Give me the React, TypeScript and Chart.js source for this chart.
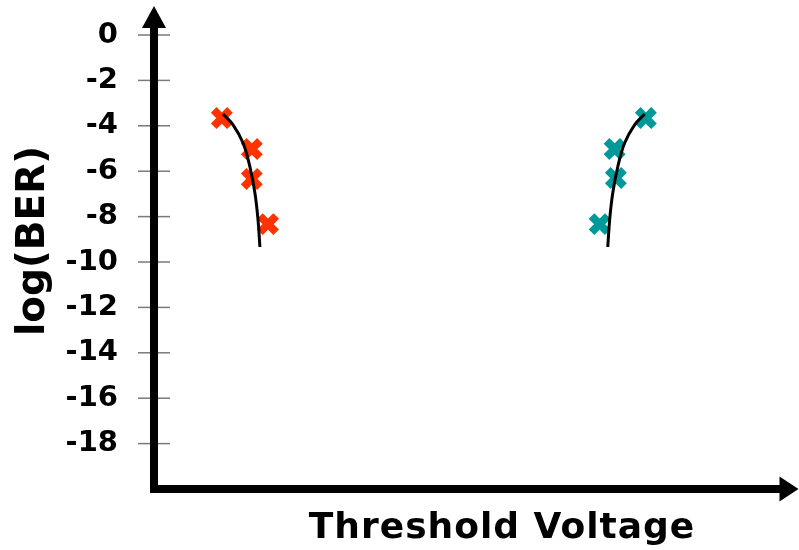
import React, { useEffect, useRef } from "react";
import { Chart, registerables } from "chart.js";

Chart.register(...registerables);

// y tick values (log BER)
const yTickValues = [0, -2, -4, -6, -8, -10, -12, -14, -16, -18];

// measured markers
const redMarkX = [1.07, 1.55, 1.55, 1.81];
const redMarkY = [-3.66, -5.02, -6.34, -8.33];
const tealMarkX = [7.86, 7.36, 7.38, 7.12];
const tealMarkY = [-3.66, -5.02, -6.3, -8.33];

// fitted curves
const redCurveX = [1.09, 1.25, 1.41, 1.52, 1.6, 1.65, 1.68];
const redCurveY = [-3.48, -3.96, -4.76, -5.81, -6.96, -8.15, -9.34];
const tealCurveX = [7.84, 7.68, 7.52, 7.41, 7.33, 7.28, 7.25];
const tealCurveY = [-3.48, -3.96, -4.76, -5.81, -6.96, -8.15, -9.34];

const xTitle = "Threshold Voltage";
const yTitle = "log(BER)";

const TICK_FONT = 29;

const toPts = (xs: number[], ys: number[]) => xs.map((x, i) => ({ x, y: ys[i] }));

const axesPlugin = {
  id: "customAxes",
  afterDraw(chart: any) {
    const { ctx, chartArea } = chart;
    const { left, right, top, bottom } = chartArea;
    const ys = chart.scales.y;
    ctx.save();
    // tick marks crossing the axis
    ctx.strokeStyle = "#7a7a7a";
    ctx.lineWidth = 1.5;
    for (const v of yTickValues) {
      const py = ys.getPixelForValue(v);
      ctx.beginPath();
      ctx.moveTo(left - 17, py);
      ctx.lineTo(left + 15, py);
      ctx.stroke();
    }
    ctx.fillStyle = "#000";
    // y axis line
    ctx.fillRect(left - 5, top - 8, 8, bottom - top + 12);
    // x axis line
    ctx.fillRect(left - 5, bottom - 4, right - left + 6, 8);
    // y arrow
    ctx.beginPath();
    ctx.moveTo(left - 1, top - 29);
    ctx.lineTo(left - 13, top - 7);
    ctx.lineTo(left + 11, top - 7);
    ctx.closePath();
    ctx.fill();
    // x arrow
    ctx.beginPath();
    ctx.moveTo(right + 19, bottom);
    ctx.lineTo(right, bottom - 12.5);
    ctx.lineTo(right, bottom + 12.5);
    ctx.closePath();
    ctx.fill();
    // titles
    ctx.fillStyle = "#000";
    ctx.font = "bold 36px 'DejaVu Sans'";
    (ctx as any).letterSpacing = "1px";
    ctx.textAlign = "center";
    ctx.textBaseline = "alphabetic";
    ctx.fillText(xTitle, 502, 538);
    ctx.translate(44, 241);
    ctx.rotate(-Math.PI / 2);
    ctx.font = "bold 39px 'DejaVu Sans'";
    (ctx as any).letterSpacing = "0px";
    ctx.fillText(yTitle, 0, 0);
    ctx.restore();
  },
};

export default function App() {
  const ref = useRef<HTMLCanvasElement>(null);
  useEffect(() => {
    const chart = new Chart(ref.current as HTMLCanvasElement, {
      type: "scatter",
      data: {
        datasets: [
          {
            type: "line",
            data: toPts(redCurveX, redCurveY),
            borderColor: "#000",
            borderWidth: 3,
            pointRadius: 0,
            tension: 0.4,
            fill: false,
          } as any,
          {
            type: "line",
            data: toPts(tealCurveX, tealCurveY),
            borderColor: "#000",
            borderWidth: 3,
            pointRadius: 0,
            tension: 0.4,
            fill: false,
          } as any,
          {
            data: toPts(redMarkX, redMarkY),
            pointStyle: "crossRot",
            pointRadius: 11.5,
            pointBorderWidth: 8,
            borderColor: "#FF3300",
            backgroundColor: "#FF3300",
          },
          {
            data: toPts(tealMarkX, tealMarkY),
            pointStyle: "crossRot",
            pointRadius: 11.5,
            pointBorderWidth: 8,
            borderColor: "#009999",
            backgroundColor: "#009999",
          },
        ],
      },
      options: {
        responsive: false,
        animation: false,
        layout: { padding: { top: 35, right: 19, bottom: 61, left: 0 } },
        plugins: { legend: { display: false }, tooltip: { enabled: false } },
        elements: { point: { hoverRadius: 11.5 } },
        scales: {
          x: { type: "linear", min: 0, max: 10, display: false },
          y: {
            type: "linear",
            min: -20,
            max: 0,
            afterFit: (s: any) => {
              s.width = 155;
            },
            afterBuildTicks: (s: any) => {
              s.ticks = yTickValues.map((v) => ({ value: v }));
            },
            ticks: {
              padding: 8,
              color: "#000",
              font: { family: "'DejaVu Sans'", size: TICK_FONT, weight: "bold" },
              callback: (v: any) => String(v),
            },
            grid: { display: false, drawTicks: true, tickLength: 29 },
            border: { display: false },
          },
        },
      },
      plugins: [axesPlugin],
    });
    return () => chart.destroy();
  }, []);
  return (
    <div style={{ position: "absolute", left: 0, top: 0, width: 799, height: 550, background: "#fff" }}>
      <canvas ref={ref} width={799} height={550} style={{ display: "block" }} />
    </div>
  );
}
